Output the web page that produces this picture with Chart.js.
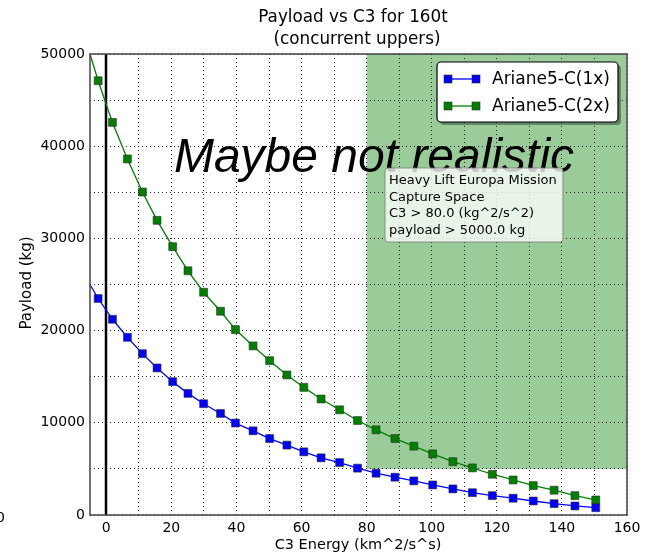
<!DOCTYPE html>
<html>
<head>
<meta charset="utf-8">
<script src="https://cdn.jsdelivr.net/npm/chart.js@4"></script>
<style>
  body { margin: 0; background: #fff; }
  canvas { display: block; }
</style>
</head>
<body>
<canvas id="chart" width="654" height="557"></canvas>
<script>
// ----- DATA -----
const c3Energy = [-5, -2.5, 1.9, 6.5, 11.1, 15.6, 20.4, 25.1, 29.9, 35.1, 39.7, 45.1, 50.2, 55.5, 60.7,
  66.0, 71.7, 77.2, 82.9, 88.7, 94.5, 100.3, 106.5, 112.5, 118.6, 125.0, 131.2, 137.6, 144.0, 150.4];
const payload1x = [25000, 23480, 21230, 19270, 17500, 15950, 14460, 13190, 12070, 11010, 9970, 9130, 8290, 7580, 6850,
  6200, 5690, 5080, 4530, 4100, 3700, 3260, 2830, 2420, 2100, 1820, 1520, 1230, 980, 790];
const payload2x = [50000, 47100, 42580, 38620, 35030, 31960, 29100, 26490, 24160, 22100, 20110, 18340, 16740, 15190, 13840,
  12580, 11410, 10250, 9240, 8290, 7470, 6630, 5790, 5110, 4420, 3800, 3190, 2690, 2100, 1630];
const seriesNames = ['Ariane5-C(1x)', 'Ariane5-C(2x)'];
const seriesColors = ['#0000ff', '#008000'];

const captureC3 = 80;
const capturePayload = 5000;
const captureLines = ['Heavy Lift Europa Mission', 'Capture Space', 'C3 > 80.0 (kg^2/s^2)', 'payload > 5000.0 kg'];
const titleLines = ['Payload vs C3 for 160t', '(concurrent uppers)'];
const stampText = 'Maybe not realistic';

const FONT = "'DejaVu Sans', sans-serif";

function toPoints(ys) {
  return c3Energy.map((x, i) => ({ x: x, y: ys[i] }));
}

function makeDataset(i, ys) {
  return {
    label: seriesNames[i],
    data: toPoints(ys),
    borderColor: seriesColors[i],
    backgroundColor: seriesColors[i],
    borderWidth: 1.3,
    pointStyle: 'rect',
    pointRadius: ctx => ctx.dataIndex === 0 ? 0 : 5.6,
    pointBorderColor: 'rgba(40,40,40,0.7)',
    pointBorderWidth: 0.8,
    pointHoverRadius: 5.6,
    tension: 0,
    fill: false
  };
}

// ----- EXTRA DRAWING -----
const decorations = {
  id: 'decorations',
  beforeDraw(chart) {
    const { ctx, chartArea: a, scales: { x, y } } = chart;
    ctx.save();
    ctx.fillStyle = '#99cc99';
    const x0 = x.getPixelForValue(captureC3);
    const yTop = y.getPixelForValue(y.max);
    const yBot = y.getPixelForValue(capturePayload);
    ctx.fillRect(x0, yTop, a.right - x0, yBot - yTop);
    ctx.restore();
  },
  beforeDatasetsDraw(chart) {
    const { ctx, chartArea: a, scales: { x } } = chart;
    ctx.save();
    ctx.strokeStyle = '#000';
    ctx.lineWidth = 2.5;
    const px = Math.round(x.getPixelForValue(0));
    ctx.beginPath();
    ctx.moveTo(px, a.top);
    ctx.lineTo(px, a.bottom);
    ctx.stroke();
    ctx.restore();
  },
  afterDatasetsDraw(chart) {
    const { ctx, chartArea: a } = chart;
    ctx.save();
    // frame
    ctx.strokeStyle = '#444';
    ctx.lineWidth = 1.5;
    ctx.strokeRect(a.left, a.top, a.right - a.left, a.bottom - a.top);

    // big stamp
    ctx.fillStyle = '#000';
    ctx.font = "italic 48px 'Liberation Sans', Arial, sans-serif";
    ctx.textAlign = 'center';
    ctx.textBaseline = 'alphabetic';
    ctx.fillText(stampText, 374, 172);

    // capture space box
    const bx = 385, by = 168, bw = 178, bh = 74;
    ctx.fillStyle = 'rgba(255,255,255,0.78)';
    ctx.strokeStyle = 'rgba(120,120,120,0.8)';
    ctx.lineWidth = 1;
    ctx.beginPath();
    ctx.roundRect(bx, by, bw, bh, 3);
    ctx.fill();
    ctx.stroke();
    ctx.fillStyle = '#000';
    ctx.font = '13px ' + FONT;
    ctx.textAlign = 'left';
    ctx.textBaseline = 'middle';
    captureLines.forEach((t, i) => ctx.fillText(t, bx + 4, by + 13 + i * 16.5));

    // legend
    const lx = 437, ly = 62, lw = 181, lh = 60;
    ctx.fillStyle = 'rgba(0,0,0,0.35)';
    ctx.beginPath();
    ctx.roundRect(lx + 3, ly + 3, lw, lh, 4);
    ctx.fill();
    ctx.fillStyle = '#fff';
    ctx.strokeStyle = '#000';
    ctx.lineWidth = 1.2;
    ctx.beginPath();
    ctx.roundRect(lx, ly, lw, lh, 4);
    ctx.fill();
    ctx.stroke();
    ctx.font = '17px ' + FONT;
    seriesNames.forEach((name, i) => {
      const yy = ly + 17 + i * 27;
      ctx.strokeStyle = seriesColors[i];
      ctx.lineWidth = 1.3;
      ctx.beginPath();
      ctx.moveTo(lx + 11, yy);
      ctx.lineTo(lx + 39, yy);
      ctx.stroke();
      [lx + 11, lx + 39].forEach(mx => {
        ctx.fillStyle = seriesColors[i];
        ctx.fillRect(mx - 4, yy - 4, 8, 8);
        ctx.strokeStyle = 'rgba(40,40,40,0.7)';
        ctx.lineWidth = 0.8;
        ctx.strokeRect(mx - 4, yy - 4, 8, 8);
      });
      ctx.fillStyle = '#000';
      ctx.textAlign = 'left';
      ctx.fillText(name, lx + 55, yy + 1);
    });

    // titles and axis labels
    ctx.fillStyle = '#000';
    ctx.textAlign = 'center';
    ctx.font = '16.8px ' + FONT;
    ctx.fillText(titleLines[0], 353, 18);
    ctx.fillText(titleLines[1], 357, 40);
    ctx.font = '14.5px ' + FONT;
    ctx.fillText('C3 Energy (km^2/s^s)', 358, 545);
    ctx.save();
    ctx.translate(27, 283);
    ctx.rotate(-Math.PI / 2);
    ctx.font = '15px ' + FONT;
    ctx.fillText('Payload (kg)', 0, 0);
    ctx.restore();
    ctx.font = '14px ' + FONT;
    ctx.textAlign = 'left';
    ctx.fillText('0', -4, 518);
    ctx.restore();
  }
};

// ----- CHART -----
new Chart(document.getElementById('chart'), {
  type: 'line',
  data: {
    datasets: [makeDataset(0, payload1x), makeDataset(1, payload2x)]
  },
  options: {
    responsive: false,
    animation: false,
    layout: { padding: { left: 0, top: 54, right: 27, bottom: 0 } },
    plugins: {
      legend: { display: false },
      title: { display: false },
      tooltip: { enabled: false }
    },
    scales: {
      x: {
        type: 'linear',
        min: -5,
        max: 160,
        afterFit: s => { s.height = 42; },
        ticks: {
          stepSize: 10,
          includeBounds: false,
          autoSkip: false,
          maxRotation: 0,
          padding: 5,
          color: '#000',
          font: { family: FONT, size: 14 },
          callback: v => v % 20 === 0 ? v : ''
        },
        grid: { color: 'rgba(0,0,0,0.85)', lineWidth: 1, drawTicks: false },
        border: { display: false, dash: [1, 3] }
      },
      y: {
        min: 0,
        max: 50000,
        afterFit: s => { s.width = 90; },
        ticks: {
          stepSize: 5000,
          autoSkip: false,
          padding: 5,
          color: '#000',
          font: { family: FONT, size: 14 },
          callback: v => v % 10000 === 0 ? v : ''
        },
        grid: { color: 'rgba(0,0,0,0.85)', lineWidth: 1, drawTicks: false },
        border: { display: false, dash: [1, 3] }
      }
    }
  },
  plugins: [decorations]
});
</script>
</body>
</html>
